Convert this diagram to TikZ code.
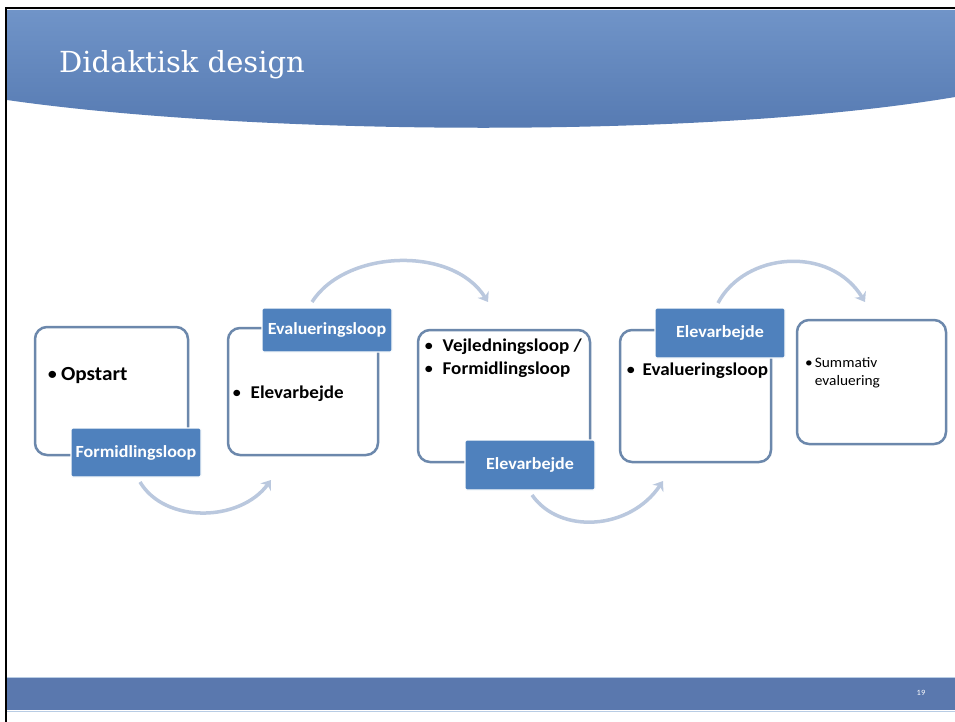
\documentclass[tikz,border=0pt]{standalone}
\usepackage{fontspec}
\setmainfont[FakeStretch=1.06]{Carlito}
\newfontfamily\titlefont{DejaVu Serif}
\usetikzlibrary{positioning,arrows.meta}

\definecolor{hdrtop}{RGB}{112,148,200}
\definecolor{hdrbot}{RGB}{84,120,176}
\definecolor{footblue}{RGB}{90,120,174}
\definecolor{footedge}{RGB}{184,204,228}
\definecolor{tagblue}{RGB}{79,129,189}
\definecolor{boxline}{RGB}{108,136,172}
\definecolor{arcgray}{RGB}{186,200,222}

\newcommand\bul{{\mdseries\textbullet}}

\tikzset{
  phase/.style={draw=boxline, line width=2.5pt, rounded corners=12pt, inner sep=0pt},
  tag/.style={fill=tagblue, draw=white, line width=1.2pt, rounded corners=1.5pt, text=white,
    font=\bfseries\fontsize{17}{20}\selectfont, minimum width=130pt, inner sep=0pt},
  loop arc/.style={draw=arcgray, line width=3.5pt, -{Stealth[length=9pt,width=13pt]}},
  item/.style={anchor=base west, align=left, inner sep=0pt, font=\bfseries\fontsize{18}{23}\selectfont},
}

\begin{document}
\begin{tikzpicture}[x=1pt,y=-1pt]
\useasboundingbox (0,0) rectangle (955,722);
\fill[white] (0,0) rectangle (955,722);

% header and footer
\shade[top color=hdrtop, bottom color=hdrbot] (7,10) -- (955,10) -- (955,97)
  .. controls (700,140) and (250,135) .. (7,100) -- cycle;
\node[anchor=base west, text=white, inner sep=0pt, font=\titlefont\fontsize{29}{33}\selectfont] (title) at (59,73) {Didaktisk design};
\fill[footblue] (7,678) rectangle (955,710);
\draw[footedge, line width=1pt] (7,677) -- (955,677) (7,711) -- (955,711);
\node[text=white, inner sep=0pt, font=\fontsize{8}{9}\selectfont] (pageno) at (921,693) {19};
\draw[line width=2.5pt] (6,722) -- (6,8) -- (955,8);

% phases
\node[phase, minimum width=153pt, minimum height=128pt] (box1) at (111.5,391) {};
\node[phase, minimum width=150pt, minimum height=127pt] (box2) at (303,391.5) {};
\node[phase, minimum width=172pt, minimum height=132pt] (box3) at (504,396) {};
\node[phase, minimum width=151pt, minimum height=132pt] (box4) at (695.5,396) {};
\node[phase, minimum width=149pt, minimum height=124pt] (box5) at (871.5,382) {};

% contents
\node[item, font=\bfseries\fontsize{20}{23}\selectfont] (txt1) at (47,380) {\bul\,Opstart};
\node[item] (txt2) at (232,398) {\bul\hspace{9pt}Elevarbejde};
\node[item] (txt3) at (424,374) {\bul\hspace{9pt}Vejledningsloop /\\ \bul\hspace{9pt}Formidlingsloop};
\node[item] (txt4) at (626,375) {\bul\hspace{7pt}Evalueringsloop};
\node[item, font=\fontsize{14.5}{18}\selectfont] (txt5) at (805,367)
  {\begin{tabular}[t]{@{}l@{\hspace{2pt}}l@{}}\bul & Summativ\\ & evaluering\end{tabular}};

% tags
\node[tag, minimum height=49pt] (tag1) at (136,452.5) {Formidlingsloop};
\node[tag, minimum height=44pt] (tag2) at (327,330) {Evalueringsloop};
\node[tag, minimum height=50pt] (tag3) at (530,465) {Elevarbejde};
\node[tag, minimum height=50pt] (tag4) at (720,333) {Elevarbejde};

% loops
\coordinate (a1s) at (140,482);  \coordinate (a1e) at (271,480);
\coordinate (a2s) at (312,302);  \coordinate (a2e) at (488,302);
\coordinate (a3s) at (532,495);  \coordinate (a3e) at (663,481);
\coordinate (a4s) at (718,303);  \coordinate (a4e) at (865,302);
\draw[loop arc] (a1s) .. controls (165,524) and (240,522) .. (a1e);
\draw[loop arc] (a2s) .. controls (345,250) and (452,245) .. (a2e);
\draw[loop arc] (a3s) .. controls (560,535) and (630,530) .. (a3e);
\draw[loop arc] (a4s) .. controls (745,252) and (830,245) .. (a4e);
\end{tikzpicture}
\end{document}
